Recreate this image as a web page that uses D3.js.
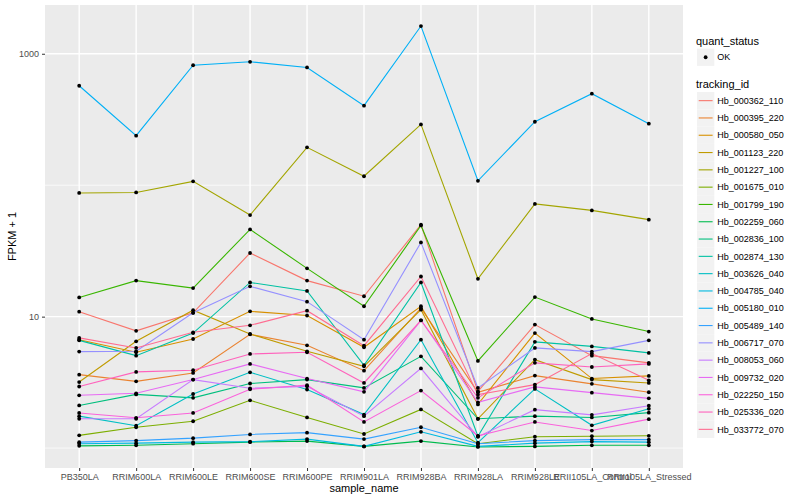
<!DOCTYPE html>
<html>
<head>
<meta charset="utf-8">
<script src="https://cdn.jsdelivr.net/npm/d3@7"></script>
<style>
  body { margin: 0; background: #fff; }
  text { font-family: "Liberation Sans", Arial, sans-serif; }
</style>
</head>
<body>
<div id="chart"></div>
<script>
var samples = ["PB350LA", "RRIM600LA", "RRIM600LE", "RRIM600SE", "RRIM600PE", "RRIM901LA",
               "RRIM928BA", "RRIM928LA", "RRIM928LE", "RRII105LA_Control", "RRII105LA_Stressed"];

var trackingIds = ["Hb_000362_110", "Hb_000395_220", "Hb_000580_050", "Hb_001123_220", "Hb_001227_100",
                   "Hb_001675_010", "Hb_001799_190", "Hb_002259_060", "Hb_002836_100", "Hb_002874_130",
                   "Hb_003626_040", "Hb_004785_040", "Hb_005180_010", "Hb_005489_140", "Hb_006717_070",
                   "Hb_008053_060", "Hb_009732_020", "Hb_022250_150", "Hb_025336_020", "Hb_033772_070"];

var quantStatus = ["OK"];

// FPKM per sample, one array per tracking_id
var fpkm_000362_110 = [9.9, 6.8, 9.7, 29.5, 17.8, 13.3, 49.1, 1.70, 7.7, 4.05, 3.45];
var fpkm_000395_220 = [2.62, 2.22, 2.73, 6.33, 5.05, 2.88, 10.6, 1.66, 2.56, 2.08, 1.66];
var fpkm_000580_050 = [5.68, 4.36, 5.76, 9.97, 9.2, 4.85, 11.0, 1.15, 6.5, 2.38, 2.54];
var fpkm_001123_220 = [2.18, 5.49, 10.2, 6.38, 4.45, 3.19, 10.3, 0.67, 3.71, 2.32, 2.13];
var fpkm_001227_100 = [86.3, 87.1, 106, 58.3, 193, 116, 289, 18.4, 71, 63.3, 53.7];
var fpkm_001675_010 = [0.25, 0.44, 0.60, 1.31, 0.71, 0.28, 0.97, 0.08, 0.22, 0.23, 0.24];
var fpkm_001799_190 = [13.0, 17.8, 15.5, 45.1, 22.3, 11.0, 48.4, 3.6, 13.1, 8.6, 6.7];
var fpkm_002259_060 = [0.04, 0.05, 0.08, 0.11, 0.13, 0.03, 0.13, 0.02, 0.03, 0.05, 0.05];
var fpkm_002836_100 = [1.11, 1.56, 1.41, 2.10, 2.32, 1.87, 3.99, 0.67, 0.75, 0.71, 0.86];
var fpkm_002874_130 = [5.6, 4.05, 6.5, 17.2, 14.7, 3.27, 17.2, 0.23, 5.43, 4.94, 4.30];
var fpkm_003626_040 = [0.75, 0.48, 1.58, 2.77, 1.79, 0.80, 5.68, 0.10, 1.82, 0.49, 0.99];
var fpkm_004785_040 = [0.08, 0.09, 0.11, 0.12, 0.17, 0.03, 0.33, 0.03, 0.09, 0.12, 0.11];
var fpkm_005180_010 = [570, 237, 817, 868, 786, 402, 1624, 107, 303, 496, 293];
var fpkm_005489_140 = [0.11, 0.14, 0.19, 0.27, 0.31, 0.17, 0.44, 0.08, 0.14, 0.16, 0.16];
var fpkm_006717_070 = [4.42, 4.45, 9.7, 16.0, 12.0, 5.68, 35.7, 1.87, 4.78, 4.42, 5.6];
var fpkm_008053_060 = [0.67, 0.67, 2.32, 1.85, 1.95, 0.75, 3.04, 0.22, 0.96, 0.79, 1.10];
var fpkm_009732_020 = [1.52, 1.61, 2.32, 3.37, 2.38, 1.68, 8.38, 1.23, 1.92, 1.64, 1.39];
var fpkm_022250_150 = [0.85, 0.70, 0.85, 1.80, 2.01, 0.58, 1.74, 0.24, 0.58, 0.36, 0.66];
var fpkm_025336_020 = [1.94, 2.80, 2.91, 4.20, 4.36, 2.13, 8.38, 1.41, 3.45, 3.14, 3.37];
var fpkm_033772_070 = [5.89, 4.78, 6.6, 7.59, 10.1, 5.01, 19.2, 1.55, 2.04, 4.24, 2.28];

var allFpkm = [fpkm_000362_110, fpkm_000395_220, fpkm_000580_050, fpkm_001123_220, fpkm_001227_100,
               fpkm_001675_010, fpkm_001799_190, fpkm_002259_060, fpkm_002836_100, fpkm_002874_130,
               fpkm_003626_040, fpkm_004785_040, fpkm_005180_010, fpkm_005489_140, fpkm_006717_070,
               fpkm_008053_060, fpkm_009732_020, fpkm_022250_150, fpkm_025336_020, fpkm_033772_070];

var yBreaks = [10, 1000];
var yMinor = [1, 100];

// ggplot default hue palette for 20 levels
var colors = ["#F8766D", "#EA8331", "#D89000", "#C09B00", "#A3A500", "#7CAE00", "#39B600", "#00BB4E",
              "#00BF7D", "#00C1A3", "#00BFC4", "#00BAE0", "#00B0F6", "#35A2FF", "#9590FF", "#C77CFF",
              "#E76BF3", "#FA62DB", "#FF62BC", "#FF6C91"];

var series = trackingIds.map(function(id, i) {
    return {id: id, values: allFpkm[i].map(function(v, j) { return {sample: samples[j], y: v + 1}; })};
});

var width = 800, height = 500;
var panel = {left: 45, right: 683, top: 5, bottom: 468};

var svg = d3.select("#chart").append("svg")
    .attr("width", width)
    .attr("height", height);

var x = d3.scalePoint()
    .domain(samples)
    .range([panel.left, panel.right])
    .padding(0.6);

var ext = d3.extent(d3.merge(series.map(function(s) { return s.values; })), function(d) { return Math.log10(d.y); });
var pad = (ext[1] - ext[0]) * 0.05;
var y = d3.scaleLog()
    .domain([Math.pow(10, ext[0] - pad), Math.pow(10, ext[1] + pad)])
    .range([panel.bottom, panel.top]);

var color = d3.scaleOrdinal().domain(trackingIds).range(colors);

// panel background + grid
svg.append("rect")
    .attr("x", panel.left).attr("y", panel.top)
    .attr("width", panel.right - panel.left).attr("height", panel.bottom - panel.top)
    .attr("fill", "#EBEBEB");

svg.selectAll(".minor").data(yMinor).enter().append("line")
    .attr("x1", panel.left).attr("x2", panel.right)
    .attr("y1", function(d) { return y(d); }).attr("y2", function(d) { return y(d); })
    .attr("stroke", "#fff").attr("stroke-width", 0.7);

svg.selectAll(".major").data(yBreaks).enter().append("line")
    .attr("x1", panel.left).attr("x2", panel.right)
    .attr("y1", function(d) { return y(d); }).attr("y2", function(d) { return y(d); })
    .attr("stroke", "#fff").attr("stroke-width", 1.4);

svg.selectAll(".vgrid").data(samples).enter().append("line")
    .attr("x1", function(d) { return x(d); }).attr("x2", function(d) { return x(d); })
    .attr("y1", panel.top).attr("y2", panel.bottom)
    .attr("stroke", "#fff").attr("stroke-width", 1.4);

// lines
var line = d3.line()
    .x(function(d) { return x(d.sample); })
    .y(function(d) { return y(d.y); });

svg.append("g").selectAll("path").data(series).enter().append("path")
    .attr("d", function(d) { return line(d.values); })
    .attr("fill", "none")
    .attr("stroke", function(d) { return color(d.id); })
    .attr("stroke-width", 1.1);

// points
svg.append("g").selectAll("g").data(series).enter().append("g")
    .selectAll("circle").data(function(d) { return d.values; }).enter().append("circle")
    .attr("cx", function(d) { return x(d.sample); })
    .attr("cy", function(d) { return y(d.y); })
    .attr("r", 1.9)
    .attr("fill", "#000");

// axes
var xAxis = svg.append("g")
    .attr("transform", "translate(0," + panel.bottom + ")")
    .call(d3.axisBottom(x).tickSize(3).tickPadding(3));
var yAxis = svg.append("g")
    .attr("transform", "translate(" + panel.left + ",0)")
    .call(d3.axisLeft(y).tickValues(yBreaks).tickFormat(d3.format("d")).tickSize(3).tickPadding(3));

[xAxis, yAxis].forEach(function(a) {
    a.select(".domain").remove();
    a.selectAll(".tick line").attr("stroke", "#333").attr("stroke-width", 1);
    a.selectAll(".tick text").attr("fill", "#4D4D4D").style("font-size", "9px")
        .style("font-family", "Liberation Sans, Arial, sans-serif");
});

svg.append("text")
    .attr("x", (panel.left + panel.right) / 2).attr("y", 492)
    .attr("text-anchor", "middle").style("font-size", "11px")
    .text("sample_name");

svg.append("text")
    .attr("transform", "translate(16," + (panel.top + panel.bottom) / 2 + ") rotate(-90)")
    .attr("text-anchor", "middle").style("font-size", "11px")
    .text("FPKM + 1");

// legends
var lg = svg.append("g");
var keyX = 697, keyW = 17.3;

lg.append("text").attr("x", 696).attr("y", 44.5).style("font-size", "11px").text("quant_status");
var qs = lg.selectAll(".qs").data(quantStatus).enter().append("g")
    .attr("transform", function(d, i) { return "translate(" + keyX + "," + (48.6 + i * keyW) + ")"; });
qs.append("rect").attr("width", keyW).attr("height", keyW).attr("fill", "#F2F2F2");
qs.append("circle").attr("cx", keyW / 2).attr("cy", keyW / 2).attr("r", 1.9).attr("fill", "#000");
qs.append("text").attr("x", keyW + 3).attr("y", keyW / 2 + 3.2).style("font-size", "9px").text(function(d) { return d; });

lg.append("text").attr("x", 696).attr("y", 88).style("font-size", "11px").text("tracking_id");
var items = lg.selectAll(".tid").data(trackingIds).enter().append("g")
    .attr("transform", function(d, i) { return "translate(" + keyX + "," + (92 + i * keyW) + ")"; });
items.append("rect").attr("width", keyW).attr("height", keyW).attr("fill", "#F2F2F2");
items.append("line")
    .attr("x1", 1.7).attr("x2", keyW - 1.7)
    .attr("y1", keyW / 2).attr("y2", keyW / 2)
    .attr("stroke", function(d) { return color(d); })
    .attr("stroke-width", 1.1);
items.append("text").attr("x", keyW + 3).attr("y", keyW / 2 + 3.2).style("font-size", "9px").text(function(d) { return d; });
</script>
</body>
</html>
